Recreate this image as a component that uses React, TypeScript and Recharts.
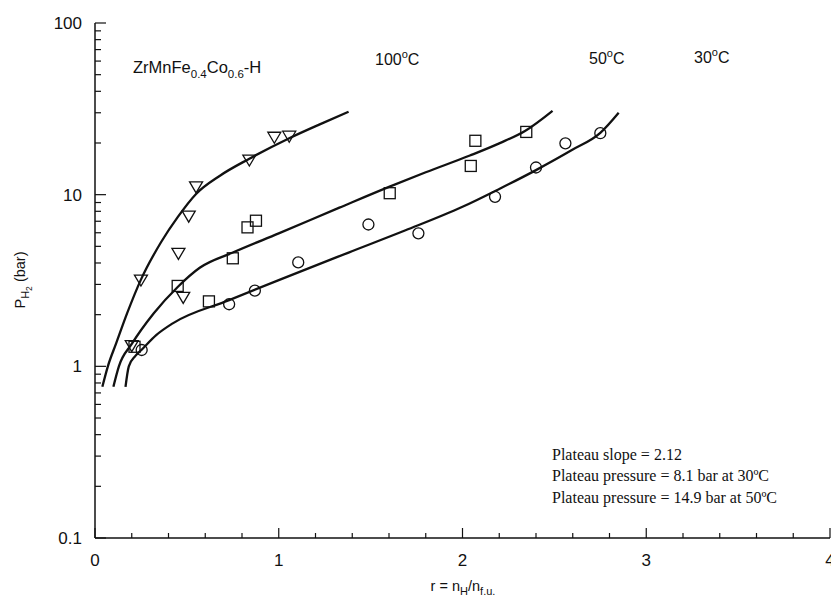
import React from "react"
import { ComposedChart, Line, Scatter, XAxis, YAxis, Customized } from "recharts"

// measured points, r = nH/nf.u. against P (bar)
const r100 = [0.2, 0.25, 0.454, 0.48, 0.51, 0.55, 0.84, 0.976, 1.057]
const p100 = [1.32, 3.18, 4.55, 2.52, 7.5, 11.1, 15.9, 21.6, 21.9]
const r50 = [0.215, 0.45, 0.62, 0.75, 0.83, 0.876, 1.604, 2.045, 2.07, 2.347]
const p50 = [1.3, 2.94, 2.39, 4.26, 6.45, 7.05, 10.2, 14.7, 20.6, 23.2]
const r30 = [0.254, 0.73, 0.87, 1.106, 1.488, 1.76, 2.177, 2.4, 2.56, 2.75]
const p30 = [1.245, 2.3, 2.76, 4.03, 6.7, 5.95, 9.72, 14.4, 19.9, 22.8]

// fitted isotherms
const fit100R = [0.04, 0.07, 0.115, 0.175, 0.25, 0.36, 0.45, 0.55, 0.68, 0.84, 1.06, 1.22, 1.38]
const fit100P = [0.76, 1.0, 1.36, 2.04, 3.2, 5.3, 7.4, 10.1, 12.9, 16.2, 21.4, 25.6, 30.4]
const fit50R = [0.1, 0.13, 0.2, 0.32, 0.45, 0.57, 0.75, 1.0, 1.33, 1.6, 1.8, 2.04, 2.2, 2.34, 2.49]
const fit50P = [0.76, 1.0, 1.35, 2.04, 2.9, 3.75, 4.6, 5.95, 8.4, 11.1, 13.5, 16.9, 19.9, 23.5, 30.8]
const fit30R = [0.166, 0.184, 0.22, 0.254, 0.333, 0.423, 0.73, 1.0, 1.38, 1.69, 2.0, 2.2, 2.4, 2.6, 2.75, 2.85]
const fit30P = [0.76, 1.0, 1.15, 1.25, 1.52, 1.78, 2.43, 3.18, 4.6, 6.2, 8.5, 10.8, 13.9, 18.3, 22.9, 30]

const xTicks = [0, 0.2, 0.4, 0.6, 0.8, 1, 1.2, 1.4, 1.6, 1.8, 2, 2.2, 2.4, 2.6, 2.8, 3, 3.2, 3.4, 3.6, 3.8, 4]
const yTicks = [
  0.1, 0.2, 0.3, 0.4, 0.5, 0.6, 0.7, 0.8, 0.9,
  1, 2, 3, 4, 5, 6, 7, 8, 9,
  10, 20, 30, 40, 50, 60, 70, 80, 90, 100,
]
const yMajor = [0.1, 1, 10, 100]

const pairs = (rs: number[], ps: number[]) => rs.map((r, i) => ({ r, p: ps[i] }))

const SANS = "'Liberation Sans', Arial, sans-serif"
const SERIF = "'Liberation Serif', 'Times New Roman', serif"

const BottomTick = (props: any) => {
  const { x, y, payload } = props
  const major = Number.isInteger(payload.value)
  return (
    <g>
      <line x1={x} y1={y} x2={x} y2={y - (major ? 10 : 5)} stroke="#111" strokeWidth={1.2} />
      {major && (
        <text x={x} y={y + 28} textAnchor="middle" fontSize={17} fontFamily={SANS} fill="#111">
          {payload.value}
        </text>
      )}
    </g>
  )
}

const TopTick = (props: any) => {
  const { x, y, payload } = props
  const major = Number.isInteger(payload.value)
  return <line x1={x} y1={y} x2={x} y2={y + (major ? 10 : 5)} stroke="#111" strokeWidth={1.2} />
}

const LeftTick = (props: any) => {
  const { x, y, payload } = props
  const major = yMajor.includes(payload.value)
  return (
    <g>
      <line x1={x} y1={y} x2={x + (major ? 11 : 6)} y2={y} stroke="#111" strokeWidth={1.2} />
      {major && (
        <text x={x - 13} y={y + 6} textAnchor="end" fontSize={17} fontFamily={SANS} fill="#111">
          {String(payload.value)}
        </text>
      )}
    </g>
  )
}

const RightTick = (props: any) => {
  const { x, y, payload } = props
  const major = yMajor.includes(payload.value)
  return <line x1={x} y1={y} x2={x - (major ? 11 : 6)} y2={y} stroke="#111" strokeWidth={1.2} />
}

const TriangleDown = (props: any) => {
  const { cx, cy } = props
  return (
    <path
      d={`M${cx - 6.5},${cy - 5} L${cx + 6.5},${cy - 5} L${cx},${cy + 6} Z`}
      fill="none"
      stroke="#111"
      strokeWidth={1.3}
    />
  )
}

const Square = (props: any) => {
  const { cx, cy } = props
  return <rect x={cx - 5.5} y={cy - 5.5} width={11} height={11} fill="none" stroke="#111" strokeWidth={1.3} />
}

const Circle = (props: any) => {
  const { cx, cy } = props
  return <circle cx={cx} cy={cy} r={5.5} fill="none" stroke="#111" strokeWidth={1.3} />
}

const Notes = () => (
  <g fill="#111">
    <text x={133} y={73} fontSize={16.5} fontFamily={SANS}>
      ZrMnFe<tspan fontSize={11.5} dy={5}>0.4</tspan>
      <tspan dy={-5}>Co</tspan>
      <tspan fontSize={11.5} dy={5}>0.6</tspan>
      <tspan dy={-5}>-H</tspan>
    </text>
    <text x={375} y={65} fontSize={16} fontFamily={SANS}>
      100<tspan fontSize={11} dy={-7}>o</tspan>
      <tspan dy={7}>C</tspan>
    </text>
    <text x={589} y={64} fontSize={16} fontFamily={SANS}>
      50<tspan fontSize={11} dy={-7}>o</tspan>
      <tspan dy={7}>C</tspan>
    </text>
    <text x={694} y={63} fontSize={16} fontFamily={SANS}>
      30<tspan fontSize={11} dy={-7}>o</tspan>
      <tspan dy={7}>C</tspan>
    </text>
    <g fontSize={16} fontFamily={SERIF}>
      <text x={552} y={460}>Plateau slope = 2.12</text>
      <text x={552} y={481}>Plateau pressure = 8.1 bar at 30ºC</text>
      <text x={552} y={503}>Plateau pressure = 14.9 bar at 50ºC</text>
    </g>
    <text x={463} y={591} textAnchor="middle" fontSize={14.5} fontFamily={SANS}>
      r = n<tspan fontSize={11} dy={4}>H</tspan>
      <tspan dy={-4}>/n</tspan>
      <tspan fontSize={11} dy={4}>f.u.</tspan>
    </text>
    <text transform="translate(25, 280) rotate(-90)" textAnchor="middle" fontSize={14.5} fontFamily={SANS}>
      P<tspan fontSize={11} dy={4}>H</tspan>
      <tspan fontSize={8.5} dy={3}>2</tspan>
      <tspan dy={-7}> (bar)</tspan>
    </text>
  </g>
)

export default function App() {
  return (
    <div style={{ margin: -8, width: 839, height: 606, background: "#fff" }}>
      <ComposedChart width={839} height={606} margin={{ top: 23, right: 9, bottom: 0, left: 0 }}>
        <XAxis
          xAxisId="b"
          dataKey="r"
          type="number"
          domain={[0, 4]}
          ticks={xTicks}
          interval={0}
          height={68}
          tickSize={0}
          tickMargin={0}
          tickLine={false}
          tick={<BottomTick />}
          axisLine={{ stroke: "#111", strokeWidth: 1.5 }}
          allowDataOverflow
        />
        <XAxis
          xAxisId="t"
          orientation="top"
          type="number"
          domain={[0, 4]}
          ticks={xTicks}
          interval={0}
          height={0}
          tickSize={0}
          tickMargin={0}
          tickLine={false}
          tick={<TopTick />}
          axisLine={{ stroke: "#111", strokeWidth: 1.5 }}
          allowDataOverflow
        />
        <YAxis
          yAxisId="l"
          type="number"
          scale="log"
          domain={[0.1, 100]}
          ticks={yTicks}
          interval={0}
          width={95}
          tickSize={0}
          tickMargin={0}
          tickLine={false}
          tick={<LeftTick />}
          axisLine={{ stroke: "#111", strokeWidth: 1.5 }}
          allowDataOverflow
        />
        <YAxis
          yAxisId="rt"
          orientation="right"
          type="number"
          scale="log"
          domain={[0.1, 100]}
          ticks={yTicks}
          interval={0}
          width={0}
          tickSize={0}
          tickMargin={0}
          tickLine={false}
          tick={<RightTick />}
          axisLine={{ stroke: "#111", strokeWidth: 1.5 }}
          allowDataOverflow
        />
        <Line xAxisId="b" yAxisId="l" data={pairs(fit100R, fit100P)} dataKey="p" type="monotone" stroke="#111" strokeWidth={2.3} dot={false} isAnimationActive={false} />
        <Line xAxisId="b" yAxisId="l" data={pairs(fit50R, fit50P)} dataKey="p" type="monotone" stroke="#111" strokeWidth={2.3} dot={false} isAnimationActive={false} />
        <Line xAxisId="b" yAxisId="l" data={pairs(fit30R, fit30P)} dataKey="p" type="monotone" stroke="#111" strokeWidth={2.3} dot={false} isAnimationActive={false} />
        <Scatter xAxisId="b" yAxisId="l" data={pairs(r100, p100)} dataKey="p" shape={<TriangleDown />} isAnimationActive={false} />
        <Scatter xAxisId="b" yAxisId="l" data={pairs(r50, p50)} dataKey="p" shape={<Square />} isAnimationActive={false} />
        <Scatter xAxisId="b" yAxisId="l" data={pairs(r30, p30)} dataKey="p" shape={<Circle />} isAnimationActive={false} />
        <Customized component={Notes} />
      </ComposedChart>
    </div>
  )
}
